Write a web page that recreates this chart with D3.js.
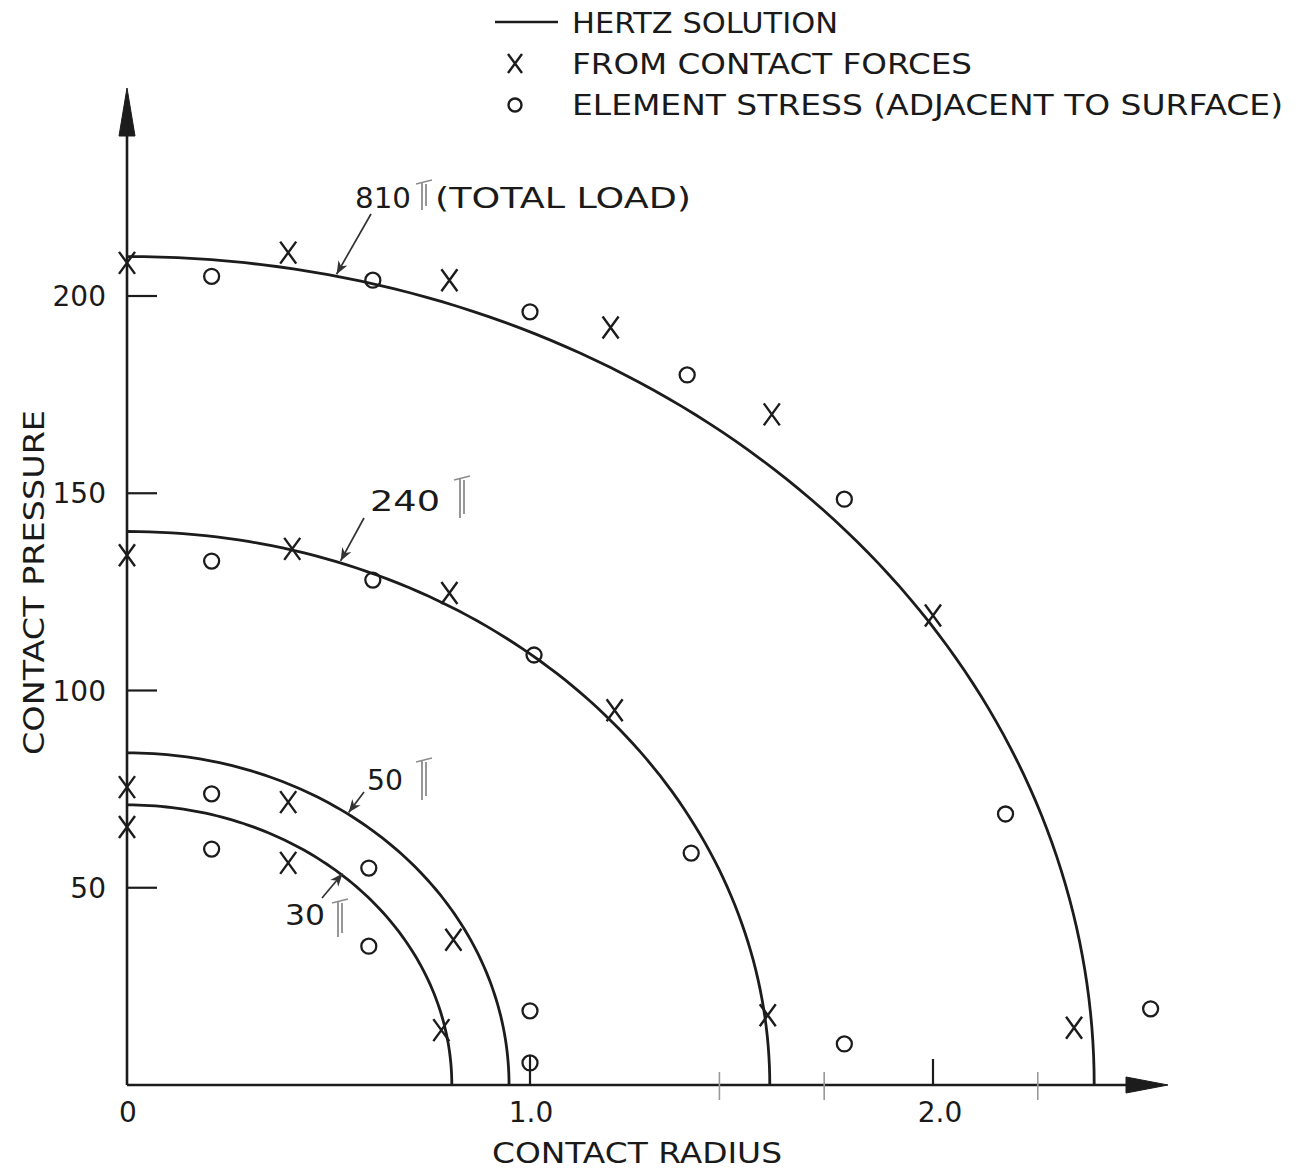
<!DOCTYPE html>
<html>
<head>
<meta charset="utf-8">
<script src="https://cdn.jsdelivr.net/npm/d3@7"></script>
<style>
  html, body { margin: 0; padding: 0; background: #fff; }
  svg { display: block; }
  text { font-family: "DejaVu Sans", "Liberation Sans", sans-serif; fill: #1a1a1a; }
</style>
</head>
<body>
<svg id="chart" width="1310" height="1172"></svg>
<script>
// Total loads and the Hertz contact parameters for each load
const loads        = [810, 240, 50, 30];
const peakPressure = [210, 140.3, 84.2, 71];      // p0 at r = 0
const contactRad   = [2.40, 1.595, 0.948, 0.806]; // radius where p drops to 0

// Points recovered from the nodal contact forces (x markers)
const forceR = [
  [0, 0.40, 0.80, 1.20, 1.60, 2.00, 2.35],
  [0, 0.41, 0.80, 1.21, 1.59],
  [0, 0.40, 0.81],
  [0, 0.40, 0.78]
];
const forceP = [
  [208.4, 211, 204, 192, 170, 119, 14.5],
  [134.3, 135.9, 124.7, 95, 17.7],
  [75.5, 71.7, 36.8],
  [65.4, 56.3, 13.9]
];

// Element stresses adjacent to the contact surface (o markers)
const stressR = [
  [0.21, 0.61, 1.00, 1.39, 1.78, 2.18, 2.54],
  [0.21, 0.61, 1.01, 1.40, 1.78],
  [0.21, 0.60, 1.00],
  [0.21, 0.60, 1.00]
];
const stressP = [
  [205, 204, 196, 180, 148.5, 68.7, 19.3],
  [132.8, 128, 109, 58.8, 10.4],
  [73.8, 55, 18.8],
  [59.8, 35.2, 5.6]
];

const xTickValues = [0, 1.0, 2.0];
const xTickLabels = ["0", "1.0", "2.0"];
const yTickValues = [50, 100, 150, 200];
const yTickLabels = ["50", "100", "150", "200"];
const faintXTicks = [1.47, 1.73, 2.26];

const legendLabels = ["HERTZ SOLUTION", "FROM CONTACT FORCES", "ELEMENT STRESS (ADJACENT TO SURFACE)"];

const ink = "#1c1c1c";
const fs = 28;
const svg = d3.select("#chart");

const x = d3.scaleLinear().domain([0, 2]).range([127, 933]);
const y = d3.scaleLinear().domain([0, 200]).range([1085, 296]);

// arrowheads for the leader lines
const defs = svg.append("defs");
defs.append("marker")
  .attr("id", "lead")
  .attr("viewBox", "0 0 10 10")
  .attr("refX", 10).attr("refY", 5)
  .attr("markerWidth", 13).attr("markerHeight", 13)
  .attr("markerUnits", "userSpaceOnUse")
  .attr("orient", "auto")
  .append("path")
  .attr("d", "M0,1 L10,5 L0,9 L3,5 Z")
  .attr("fill", "#333");

// ---- axes ----
const axes = svg.append("g").attr("stroke", ink).attr("fill", "none");
axes.append("line")
  .attr("x1", x(0)).attr("y1", y(0))
  .attr("x2", x(0)).attr("y2", 120)
  .attr("stroke-width", 2.6);
axes.append("path")
  .attr("d", `M${x(0)},88 L${x(0) - 8},136 L${x(0) + 8},136 Z`)
  .attr("fill", ink).attr("stroke-width", 1);
axes.append("line")
  .attr("x1", x(0)).attr("y1", y(0))
  .attr("x2", 1140).attr("y2", y(0))
  .attr("stroke-width", 2.6);
axes.append("path")
  .attr("d", `M1168,${y(0)} L1126,${y(0) - 8} L1126,${y(0) + 8} Z`)
  .attr("fill", ink).attr("stroke-width", 1);

// y ticks (drawn inward)
axes.selectAll(".ytick").data(yTickValues).enter().append("line")
  .attr("x1", x(0)).attr("x2", x(0) + 30)
  .attr("y1", d => y(d)).attr("y2", d => y(d))
  .attr("stroke-width", 2.2);
// x ticks (upward)
axes.selectAll(".xtick").data(xTickValues.slice(1)).enter().append("line")
  .attr("x1", d => x(d)).attr("x2", d => x(d))
  .attr("y1", y(0)).attr("y2", y(0) - 26)
  .attr("stroke-width", 2.2);
// faint pencil ticks
axes.selectAll(".ftick").data(faintXTicks).enter().append("line")
  .attr("x1", d => x(d)).attr("x2", d => x(d))
  .attr("y1", y(0) - 13).attr("y2", y(0) + 15)
  .attr("stroke", "#9a9a9a").attr("stroke-width", 1.6);

// tick labels
svg.selectAll(".ylab").data(yTickValues).enter().append("text")
  .attr("x", 106).attr("y", d => y(d) + 10)
  .attr("text-anchor", "end")
  .attr("font-size", fs)
  .text((d, i) => yTickLabels[i]);
svg.selectAll(".xlab").data(xTickValues).enter().append("text")
  .attr("x", d => x(d) + (d === 2 ? 7 : 1)).attr("y", y(0) + 37)
  .attr("text-anchor", "middle")
  .attr("font-size", fs)
  .text((d, i) => xTickLabels[i]);

// axis titles
svg.append("text")
  .attr("x", 492).attr("y", 1163)
  .attr("font-size", fs)
  .attr("textLength", 290).attr("lengthAdjust", "spacingAndGlyphs")
  .text("CONTACT RADIUS");
svg.append("text")
  .attr("transform", "translate(44,755) rotate(-90)")
  .attr("font-size", fs)
  .attr("textLength", 345).attr("lengthAdjust", "spacingAndGlyphs")
  .text("CONTACT PRESSURE");

// ---- Hertz curves: p = p0 * sqrt(1 - (r/a)^2), traced as a quarter ellipse ----
const angles = d3.range(0, 91, 1).map(t => t * Math.PI / 180);
const line = d3.line().x(d => x(d[0])).y(d => y(d[1]));
const curves = svg.append("g");
loads.forEach((L, i) => {
  const pts = angles.map(t => [contactRad[i] * Math.sin(t), peakPressure[i] * Math.cos(t)]);
  curves.append("path")
    .attr("d", line(pts))
    .attr("fill", "none")
    .attr("stroke", ink)
    .attr("stroke-width", 2.8);
});

// ---- markers ----
const marks = svg.append("g").attr("stroke", ink).attr("fill", "none");
loads.forEach((L, i) => {
  forceR[i].forEach((r, j) => {
    const cx = x(r), cy = y(forceP[i][j]);
    marks.append("path")
      .attr("d", `M${cx - 8},${cy - 11} L${cx + 8},${cy + 11} M${cx + 8},${cy - 11} L${cx - 8},${cy + 11}`)
      .attr("stroke-width", 2.4);
  });
  stressR[i].forEach((r, j) => {
    marks.append("circle")
      .attr("cx", x(r)).attr("cy", y(stressP[i][j]))
      .attr("r", 7.5)
      .attr("stroke-width", 2.3);
  });
});
// stem under the o at r = 1.0 on the smallest load
marks.append("line")
  .attr("x1", x(1.0)).attr("x2", x(1.0))
  .attr("y1", y(stressP[3][2]) - 7).attr("y2", y(0))
  .attr("stroke-width", 2);

// ---- load annotations ----
const annot = [
  { txt: "810", tx: 355, ty: 208, tw: 56, ax: 371, ay: 214, tipR: 0.52, sym: 424, symY: 182, symH: 28, extra: "(TOTAL LOAD)" },
  { txt: "240", tx: 370, ty: 511, tw: 70, ax: 364, ay: 518, tipR: 0.53, sym: 462, symY: 478, symH: 40 },
  { txt: "50",  tx: 367, ty: 790, tw: 36, ax: 364, ay: 792, tipR: 0.55, sym: 424, symY: 760, symH: 40 },
  { txt: "30",  tx: 285, ty: 925, tw: 40, ax: 322, ay: 898, tipR: 0.535, sym: 340, symY: 901, symH: 36 }
];
annot.forEach((a, i) => {
  svg.append("text")
    .attr("x", a.tx).attr("y", a.ty)
    .attr("font-size", fs)
    .attr("textLength", a.tw).attr("lengthAdjust", "spacingAndGlyphs")
    .text(a.txt);
  // pencilled load unit
  const g = svg.append("g").attr("stroke", "#8c8c8c").attr("stroke-width", 1.8).attr("fill", "none");
  g.append("line").attr("x1", a.sym - 8).attr("x2", a.sym + 8).attr("y1", a.symY + 2).attr("y2", a.symY - 2);
  g.append("line").attr("x1", a.sym - 2).attr("x2", a.sym - 2).attr("y1", a.symY).attr("y2", a.symY + a.symH);
  g.append("line").attr("x1", a.sym + 2).attr("x2", a.sym + 2).attr("y1", a.symY + 2).attr("y2", a.symY + a.symH - 4);
  if (a.extra) {
    svg.append("text")
      .attr("x", 435).attr("y", a.ty)
      .attr("font-size", fs)
      .attr("textLength", 256).attr("lengthAdjust", "spacingAndGlyphs")
      .text(a.extra);
  }
  const tr = a.tipR;
  const tp = peakPressure[i] * Math.sqrt(1 - (tr / contactRad[i]) ** 2);
  svg.append("line")
    .attr("x1", a.ax).attr("y1", a.ay)
    .attr("x2", x(tr)).attr("y2", y(tp) - 2)
    .attr("stroke", "#333").attr("stroke-width", 1.7)
    .attr("marker-end", "url(#lead)");
});

// ---- legend ----
const lg = svg.append("g");
lg.append("line")
  .attr("x1", 495).attr("x2", 558).attr("y1", 22).attr("y2", 22)
  .attr("stroke", ink).attr("stroke-width", 2.4);
lg.append("path")
  .attr("d", "M508,54 L522,73 M522,54 L508,73")
  .attr("stroke", ink).attr("stroke-width", 2.4).attr("fill", "none");
lg.append("circle")
  .attr("cx", 515).attr("cy", 105).attr("r", 6.5)
  .attr("stroke", ink).attr("stroke-width", 2.4).attr("fill", "none");
const lw = [266, 400, 711];
legendLabels.forEach((s, i) => {
  lg.append("text")
    .attr("x", 572).attr("y", 33 + i * 41)
    .attr("font-size", fs)
    .attr("textLength", lw[i]).attr("lengthAdjust", "spacingAndGlyphs")
    .text(s);
});
</script>
</body>
</html>
